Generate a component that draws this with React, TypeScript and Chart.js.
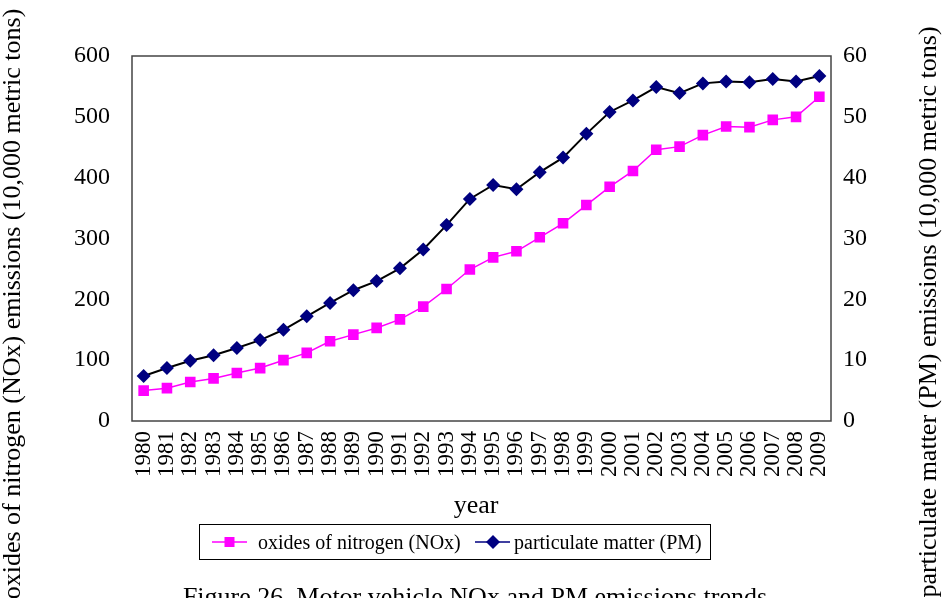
import React, { useEffect, useRef } from "react";
import { Chart, registerables } from "chart.js";

Chart.register(...registerables);

const years = [
  "1980", "1981", "1982", "1983", "1984", "1985", "1986", "1987", "1988", "1989",
  "1990", "1991", "1992", "1993", "1994", "1995", "1996", "1997", "1998", "1999",
  "2000", "2001", "2002", "2003", "2004", "2005", "2006", "2007", "2008", "2009",
];

const noxValues = [
  50, 54, 64, 70, 79, 87, 100, 112, 131, 142,
  153, 167, 188, 217, 249, 269, 279, 302, 325, 355,
  385, 411, 446, 451, 470, 484, 483, 495, 500, 533,
];

const pmValues = [
  7.4, 8.7, 9.9, 10.8, 12.0, 13.3, 15.0, 17.2, 19.4, 21.5,
  23.0, 25.1, 28.2, 32.2, 36.5, 38.8, 38.1, 40.9, 43.3, 47.2,
  50.8, 52.7, 54.9, 53.9, 55.5, 55.8, 55.7, 56.2, 55.8, 56.7,
];

const leftTitle = "oxides of nitrogen (NOx) emissions (10,000 metric tons)";
const rightTitle = "particulate matter (PM) emissions (10,000 metric tons)";
const xTitle = "year";
const caption = "Figure 26. Motor vehicle NOx and PM emissions trends";
const noxLabel = "oxides of nitrogen (NOx)";
const pmLabel = "particulate matter (PM)";

const SERIF = "'Liberation Serif', 'Times New Roman', serif";
const MAGENTA = "#FF00FF";
const NAVY = "#000080";

const decorPlugin = {
  id: "decor",
  afterDraw(chart: any) {
    const ctx = chart.ctx as CanvasRenderingContext2D;
    const a = chart.chartArea;
    ctx.save();
    ctx.strokeStyle = "#444";
    ctx.lineWidth = 1.5;
    ctx.strokeRect(a.left, a.top, a.right - a.left, a.bottom - a.top);

    ctx.fillStyle = "#000";
    ctx.font = `26px ${SERIF}`;
    ctx.textAlign = "center";
    ctx.textBaseline = "alphabetic";
    ctx.fillText(xTitle, 476, 513);
    ctx.fillText(caption, 475, 605);

    ctx.save();
    ctx.translate(20, 304);
    ctx.rotate(-Math.PI / 2);
    ctx.fillText(leftTitle, 0, 0);
    ctx.restore();

    ctx.save();
    ctx.translate(936, 312);
    ctx.rotate(-Math.PI / 2);
    ctx.fillText(rightTitle, 0, 0);
    ctx.restore();

    ctx.strokeStyle = "#000";
    ctx.lineWidth = 1;
    ctx.strokeRect(199.5, 524.5, 511, 35);
    const ly = 542;
    ctx.strokeStyle = MAGENTA;
    ctx.lineWidth = 1.5;
    ctx.beginPath();
    ctx.moveTo(212, ly);
    ctx.lineTo(247, ly);
    ctx.stroke();
    ctx.fillStyle = MAGENTA;
    ctx.fillRect(224.5, ly - 5, 10, 10);

    ctx.strokeStyle = NAVY;
    ctx.beginPath();
    ctx.moveTo(475, ly);
    ctx.lineTo(510, ly);
    ctx.stroke();
    ctx.fillStyle = NAVY;
    ctx.beginPath();
    ctx.moveTo(493, ly - 7);
    ctx.lineTo(500, ly);
    ctx.lineTo(493, ly + 7);
    ctx.lineTo(486, ly);
    ctx.closePath();
    ctx.fill();

    ctx.fillStyle = "#000";
    ctx.font = `20px ${SERIF}`;
    ctx.textAlign = "left";
    ctx.fillText(noxLabel, 258, 549);
    ctx.fillText(pmLabel, 514, 549);
    ctx.restore();
  },
};

export default function App() {
  const ref = useRef<HTMLCanvasElement | null>(null);

  useEffect(() => {
    if (!ref.current) return;
    const chart = new Chart(ref.current, {
      type: "line",
      data: {
        labels: years,
        datasets: [
          {
            label: noxLabel,
            data: noxValues,
            yAxisID: "y",
            borderColor: MAGENTA,
            backgroundColor: MAGENTA,
            borderWidth: 1.5,
            pointStyle: "rect",
            pointRadius: 7.5,
            pointBorderWidth: 0,
            pointBackgroundColor: MAGENTA,
            tension: 0,
          },
          {
            label: pmLabel,
            data: pmValues,
            yAxisID: "y1",
            borderColor: "#000",
            backgroundColor: NAVY,
            borderWidth: 2,
            pointStyle: "rectRot",
            pointRadius: 7,
            pointBorderWidth: 0,
            pointBackgroundColor: NAVY,
            tension: 0,
          },
        ],
      },
      options: {
        animation: false,
        responsive: false,
        devicePixelRatio: 1,
        layout: { padding: { top: 56, left: 0, right: 0, bottom: 0 } },
        plugins: {
          legend: { display: false },
          tooltip: { enabled: false },
          title: { display: false },
        },
        scales: {
          x: {
            type: "category",
            offset: true,
            grid: { display: false, drawTicks: false },
            border: { display: false },
            ticks: {
              autoSkip: false,
              maxRotation: 90,
              minRotation: 90,
              padding: 10,
              color: "#000",
              font: { family: SERIF, size: 23 },
            },
            afterFit: (s: any) => {
              s.height = 199;
            },
          },
          y: {
            position: "left",
            min: 0,
            max: 600,
            grid: { display: false, drawTicks: false },
            border: { display: false },
            ticks: {
              stepSize: 100,
              padding: 22,
              color: "#000",
              font: { family: SERIF, size: 24 },
            },
            afterFit: (s: any) => {
              s.width = 132;
            },
          },
          y1: {
            position: "right",
            min: 0,
            max: 60,
            grid: { display: false, drawTicks: false },
            border: { display: false },
            ticks: {
              stepSize: 10,
              padding: 12,
              color: "#000",
              font: { family: SERIF, size: 24 },
            },
            afterFit: (s: any) => {
              s.width = 116;
            },
          },
        },
      },
      plugins: [decorPlugin],
    });
    return () => chart.destroy();
  }, []);

  return (
    <div
      style={{
        position: "fixed",
        left: 0,
        top: 0,
        width: 947,
        height: 598,
        overflow: "hidden",
        background: "#fff",
      }}
    >
      <canvas ref={ref} width={947} height={620} style={{ display: "block", width: 947, height: 620 }} />
    </div>
  );
}
